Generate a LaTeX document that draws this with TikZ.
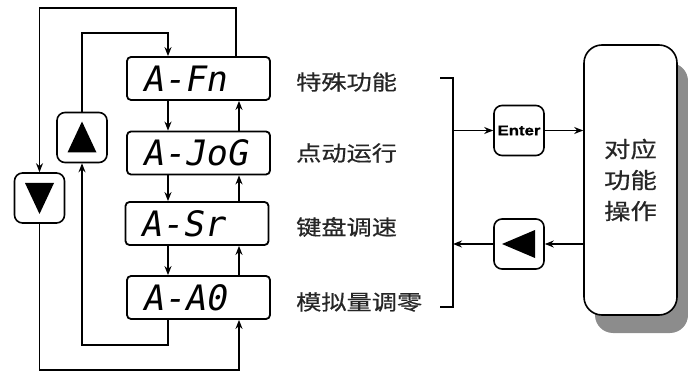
\documentclass[tikz,border=0pt]{standalone}
\usepackage{fontspec}
\setmainfont{Liberation Sans}
\newfontfamily\cjk[FakeStretch=1.2, FakeBold=0.6]{Noto Sans CJK SC}
\newfontfamily\segfont[FakeSlant=0.18]{DejaVu Sans Mono}
\newfontfamily\enterfont[FakeBold=1]{Liberation Sans}
\usetikzlibrary{arrows.meta,shadows}
\tikzset{
  disp/.style={draw, line width=1.8pt, rounded corners=4pt, minimum width=143pt,
    minimum height=43pt, inner xsep=15pt, inner ysep=0pt, text width=113pt, align=left,
    font=\segfont\fontsize{35}{35}\selectfont},
  btn/.style={draw, line width=1.6pt, rounded corners=8pt, minimum width=50pt,
    minimum height=50pt, inner sep=0pt},
  lab/.style={anchor=west, inner sep=0pt, text=black!85, font=\cjk\fontsize{21}{26}\selectfont},
  conn/.style={line width=1.5pt, -{Stealth[length=9pt,width=7pt]}},
  plain/.style={line width=1.5pt},
  tri/.style={fill=black}
}
\begin{document}
\begin{tikzpicture}[x=1pt,y=-1pt]
\useasboundingbox (0,0) rectangle (688,374);
% display boxes
\node[disp] (fn)  at (198.5,78.5) {A-Fn};
\node[disp] (jog) at (198.5,153)  {A-JoG};
\node[disp] (sr)  at (197,223.5)  {A-Sr};
\node[disp] (a0)  at (198.5,297.5) {A-A0};
% buttons
\node[btn] (up) at (82,137.5) {};
\node[btn] (dn) at (39.5,198) {};
\fill[tri, shift={(up.center)}] (-14.5,15) -- (14.5,15) -- (0,-16) -- cycle;
\fill[tri, shift={(dn.center)}] (-14.5,-15) -- (14.5,-15) -- (0,16) -- cycle;
% labels
\node[lab] (l1) at (296,82)  {特殊功能};
\node[lab] (l2) at (296,153) {点动运行};
\node[lab] (l3) at (296,227) {键盘调速};
\node[lab] (l4) at (296,302) {模拟量调零};
% right side
\node[btn, font=\enterfont\bfseries\fontsize{14}{14}\selectfont] (enter) at (519,130.5) {\scalebox{1.2}[1]{Enter}};
\node[btn] (lb) at (519,244) {};
\fill[tri, shift={(lb.center)}] (-17,0) -- (16,-14) -- (16,14) -- cycle;
\node[draw, line width=1.6pt, rounded corners=18pt, fill=white, minimum width=93pt,
  minimum height=270pt, align=center, text=black!85,
  font=\cjk\fontsize{22}{31}\selectfont,
  drop shadow={shadow xshift=11pt, shadow yshift=-18pt, fill=black!45, opacity=1}]
  (big) at (630.5,180) {对应\\功能\\操作};
% coordinates
\coordinate (dx) at (168,0);
\coordinate (ux) at (239,0);
\coordinate (ot) at (236,8);
\coordinate (ob) at (239,370);
\coordinate (it) at (168,33);
\coordinate (ib) at (168,345);
\coordinate (b1) at (440,78);
\coordinate (b4) at (440,307);
\coordinate (bx1) at (453,78);
\coordinate (bx4) at (453,307);
% between boxes
\foreach \a/\b in {fn/jog, jog/sr, sr/a0} {
  \draw[conn] (\a.south -| dx) -- (\b.north -| dx);
  \draw[conn] (\b.north -| ux) -- (\a.south -| ux);
}
% outer loop
\draw[conn] (fn.north -| ot) -- (ot) -| (dn.north);
\draw[conn] (dn.south) |- (ob) -- (a0.south -| ob);
% inner loop
\draw[conn] (a0.south -| ib) -- (ib) -| (up.south);
\draw[conn] (up.north) |- (it) -- (fn.north -| it);
% bracket
\draw[plain] (b1) -- (bx1) -- (bx4) -- (b4);
\draw[conn] (enter.west -| bx1) -- (enter.west);
\draw[conn] (enter.east) -- (enter.east -| big.west);
\draw[conn] (lb.east -| big.west) -- (lb.east);
\draw[conn] (lb.west) -- (lb.west -| bx1);
\end{tikzpicture}
\end{document}
